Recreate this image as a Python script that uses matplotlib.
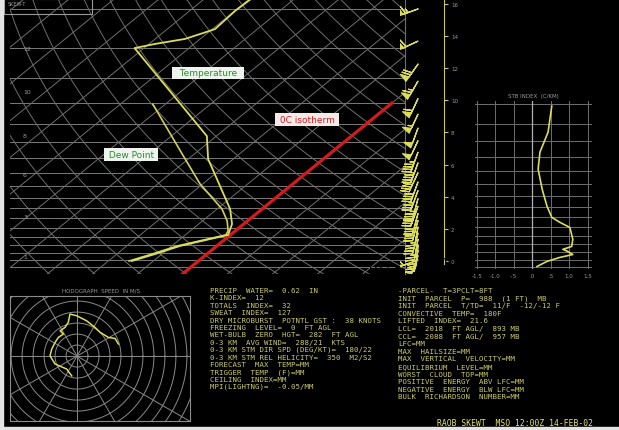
import numpy as np
import matplotlib.pyplot as plt
from matplotlib.patches import Rectangle

# ---- data ----
# sounding (pressure hPa, temperature C)
temp_p = [139, 152, 174, 187, 194, 200, 382, 452, 653, 729, 790, 857, 909, 957]
temp_t = [-59.6, -59.9, -59.4, -63.4, -68.7, -72.1, -32.1, -25.6, -7.1, -2.6, -0.5, -8.2, -11.5, -14.8]
dew_p = [302, 452, 543, 653, 713, 767, 790, 857, 909, 957]
dew_t = [-52.8, -30.7, -20.6, -8.9, -4.5, -1.6, -1.0, -8.8, -12.2, -15.4]

# wind barbs (pressure hPa, direction deg, speed kt)
wind_p = [150, 190, 225, 255, 290, 325, 360, 395, 430, 465, 500, 535, 570, 605,
          640, 675, 710, 745, 780, 815, 850, 885, 920, 950]
wind_dir = [250, 245, 215, 210, 205, 205, 200, 205, 200, 200, 205, 200, 200, 195,
            200, 195, 195, 190, 195, 190, 185, 190, 200, 250]
wind_spd = [65, 60, 70, 65, 60, 55, 50, 50, 45, 45, 40, 40, 35, 35,
            30, 30, 30, 25, 25, 25, 20, 20, 15, 25]

# small right panel profile
prof_p = [355, 423, 484, 543, 622, 697, 751, 777, 804, 871, 914, 932, 945, 965, 984, 1011, 1046]
prof_v = [0.53, 0.43, 0.21, 0.16, 0.27, 0.40, 0.53, 0.75, 1.02, 1.10, 1.07, 0.83, 0.96, 1.10, 0.75, 0.40, 0.13]
prof_xticks = [-1.5, -1.0, -0.5, 0.0, 0.5, 1.0, 1.5]
prof_xlabels = ["-1.5", "-1.0", "-.5", ".0", ".5", "1.0", "1.5"]

# hodograph (u, v in m/s)
hodo_u = [-2.4, -4.7, -10.0, -12.3, -11.5, -10.0, -8.5, -6.2, -7.7, -5.5, -4.0,
          -3.2, -0.1, 4.4, 8.2, 10.5, 14.2, 17.3, 18.8]
hodo_v = [-9.0, -5.9, -3.6, 0.1, 3.2, 6.2, 8.5, 10.0, 11.5, 13.0, 15.3,
          19.1, 18.3, 16.0, 13.0, 10.8, 8.5, 8.0, 5.5]

# height scale labels
height_km = [0, 2, 4, 6, 8, 10, 12, 14, 16]
side_p = [200, 276, 379, 505, 692, 929]
side_labels = ["12", "10", "8", "6", "3", "1"]

left_lines = [
    "PRECIP  WATER=  0.62  IN",
    "K-INDEX=  12",
    "TOTALS  INDEX=  32",
    "SWEAT  INDEX=  127",
    "DRY MICROBURST  POTNTL GST :  38 KNOTS",
    "FREEZING  LEVEL=  0  FT AGL",
    "WET-BULB  ZERO  HGT=  282  FT AGL",
    "0-3 KM  AVG WIND=  288/21  KTS",
    "0-3 KM STM DIR SPD (DEG/KT)=  180/22",
    "0-3 KM STM REL HELICITY=  350  M2/S2",
    "FORECAST  MAX  TEMP=MM",
    "TRIGGER  TEMP  (F)=MM",
    "CEILING  INDEX=MM",
    "MPI(LIGHTNG)=  -0.05/MM",
]
right_lines = [
    "-PARCEL-  T=3PCLT=8FT",
    "INIT  PARCEL  P=  988  (1 FT)  MB",
    "INIT  PARCEL  T/TD=  11/F  -12/-12 F",
    "CONVECTIVE  TEMP=  180F",
    "LIFTED  INDEX=  21.6",
    "LCL=  2018  FT AGL/  893 MB",
    "CCL=  2088  FT AGL/  957 MB",
    "LFC=MM",
    "MAX  HAILSIZE=MM",
    "MAX  VERTICAL  VELOCITY=MM",
    "EQUILIBRIUM  LEVEL=MM",
    "WORST  CLOUD  TOP=MM",
    "POSITIVE  ENERGY  ABV LFC=MM",
    "NEGATIVE  ENERGY  BLW LFC=MM",
    "BULK  RICHARDSON  NUMBER=MM",
]

W, H = 619, 431
SKEW = 37.0
GRID = "#6e6e6e"
YEL = "#dcdc5c"
TXT = "#cccc6a"

fig = plt.figure(figsize=(W / 100, H / 100), dpi=100, facecolor="black")


def px_axes(x0, y0, x1, y1):
    a = fig.add_axes([x0 / W, 1 - y1 / H, (x1 - x0) / W, (y1 - y0) / H])
    a.set_facecolor("none")
    for s in a.spines.values():
        s.set_visible(False)
    a.set_xticks([])
    a.set_yticks([])
    return a


def skew_x(t, p):
    return np.asarray(t, float) + SKEW * np.log(1050.0 / np.asarray(p, float))


def ftext(x, y, s, **kw):
    fig.text(x / W, 1 - y / H, s, **kw)


# ---- skew-T ----
ax = px_axes(10, 0, 405, 275)
ax.set_yscale("log")
ax.set_ylim(1053, 139.4)
ax.set_xlim(-38.4, 49.3)
ax.set_yticks([], minor=True)
ax.spines["right"].set_visible(True)
ax.spines["right"].set_color(GRID)

pp = np.geomspace(139, 1053, 80)
for p in range(150, 1051, 50):
    ax.axhline(p, color="#7a7a7a", lw=0.7)
for t in range(-130, 60, 10):
    ax.plot(skew_x(t, pp), pp, color=GRID, lw=0.7)
for th in range(230, 480, 10):
    ax.plot(skew_x(th * (pp / 1000.0) ** 0.286 - 273.15, pp), pp, color=GRID, lw=0.7)

pr = np.geomspace(300, 1053, 30)
ax.plot(skew_x(np.zeros_like(pr), pr), pr, color="#d41a1a", lw=2.3)
ax.plot(skew_x(dew_t, dew_p), dew_p, color="#d2d25a", lw=1.2)
ax.plot(skew_x(temp_t, temp_p), temp_p, color=YEL, lw=1.3)

for p, lab in zip(side_p, side_labels):
    ax.text(-35.5, p, lab, color="#9a9a9a", fontsize=4.5, va="center")

ftext(208, 74, "  Temperature  ", color="#2e8b2e", fontsize=6.5, ha="center", va="center",
      bbox=dict(boxstyle="square,pad=0.2", fc="#eef4ee", ec="none"))
ftext(131, 155.5, " Dew Point ", color="#2e8b2e", fontsize=6.5, ha="center", va="center",
      bbox=dict(boxstyle="square,pad=0.2", fc="#eef4ee", ec="none"))
ftext(307, 120.5, " 0C isotherm ", color="#d42020", fontsize=6.5, ha="center", va="center",
      bbox=dict(boxstyle="square,pad=0.2", fc="#f4eaea", ec="none"))

# legend box top left
fig.patches.append(Rectangle((4 / W, 1 - 15 / H), 88 / W, 15 / H, transform=fig.transFigure,
                             fill=False, ec="#9a9a9a", lw=0.8))
ftext(8, 5, "SKEW-T", color="#9a9a9a", fontsize=3.5, va="center")

# ---- wind barbs ----
axb = px_axes(400, 0, 440, 275)
axb.set_yscale("log")
axb.set_ylim(1053, 139.4)
axb.set_xlim(-1, 1)
axb.set_yticks([], minor=True)
wd = np.radians(wind_dir)
ws = np.array(wind_spd, float)
axb.barbs(np.zeros(len(wind_p)) - 0.1, wind_p, -ws * np.sin(wd), -ws * np.cos(wd),
          length=5.5, color=YEL, lw=0.9)

# ---- height scale ----
axh = px_axes(420, 0, 444, 265)
axh.set_ylim(-0.19, 16.31)
axh.spines["right"].set_visible(True)
axh.spines["right"].set_color("#c8c860")
axh.yaxis.tick_right()
axh.set_yticks(height_km)
axh.set_yticklabels([str(h) for h in height_km])
axh.tick_params(axis="y", colors="#c8c860", labelcolor="#9a9a9a", labelsize=4, length=3, pad=2)

# ---- right profile panel ----
axp = px_axes(475, 102, 592, 270)
axp.set_yscale("log")
axp.set_ylim(1064, 343)
axp.set_xlim(-1.55, 1.62)
axp.set_yticks([], minor=True)
for p in range(350, 1051, 50):
    axp.axhline(p, color=GRID, lw=0.7)
for x in prof_xticks:
    axp.axvline(x, color="#b0b0b0" if x == 0 else GRID, lw=0.9 if x == 0 else 0.7)
axp.plot(prof_v, prof_p, color=YEL, lw=1.2)
axp.set_xticks(prof_xticks)
axp.set_xticklabels(prof_xlabels)
axp.tick_params(axis="x", length=0, labelsize=4, labelcolor="#9a9a9a", pad=3)
ftext(533, 97, "STB INDEX  (C/KM)", color="#9a9a9a", fontsize=4, ha="center", va="center")

# ---- hodograph ----
axo = px_axes(10, 297, 190, 422)
axo.set_xlim(-30.5, 51.4)
axo.set_ylim(-29.5, 27.3)
for s in axo.spines.values():
    s.set_visible(True)
    s.set_color("#8c8c8c")
ang = np.linspace(0, 2 * np.pi, 240)
for r in range(5, 65, 5):
    axo.plot(r * np.cos(ang), r * np.sin(ang), color="#8a8a8a", lw=0.7)
for a in range(0, 360, 30):
    axo.plot([0, 70 * np.cos(np.radians(a))], [0, 70 * np.sin(np.radians(a))], color="#8a8a8a", lw=0.7)
axo.plot(hodo_u, hodo_v, color=YEL, lw=1.1)
ftext(101, 291, "HODOGRAPH  SPEED  IN M/S", color="#9a9a9a", fontsize=4, ha="center", va="center")

# ---- text block ----
for i, s in enumerate(left_lines):
    ftext(210, 291 + i * 7.4, s, color=TXT, fontsize=5.3, family="DejaVu Sans Mono", va="center")
for i, s in enumerate(right_lines):
    ftext(398, 291 + i * 7.6, s, color=TXT, fontsize=5.3, family="DejaVu Sans Mono", va="center")
ftext(437, 424, "RAOB SKEWT  MSO 12:00Z 14-FEB-02", color="#e6e65a", fontsize=5.8,
      family="DejaVu Sans Mono", va="center")

# edge strips of the screenshot
fig.patches.append(Rectangle((0, 0), 3 / W, 1, transform=fig.transFigure, color="#e4e4e4"))
fig.patches.append(Rectangle((0, 0), 1, 3 / H, transform=fig.transFigure, color="#e4e4e4"))

fig.savefig("out.png", dpi=100, facecolor="black")
